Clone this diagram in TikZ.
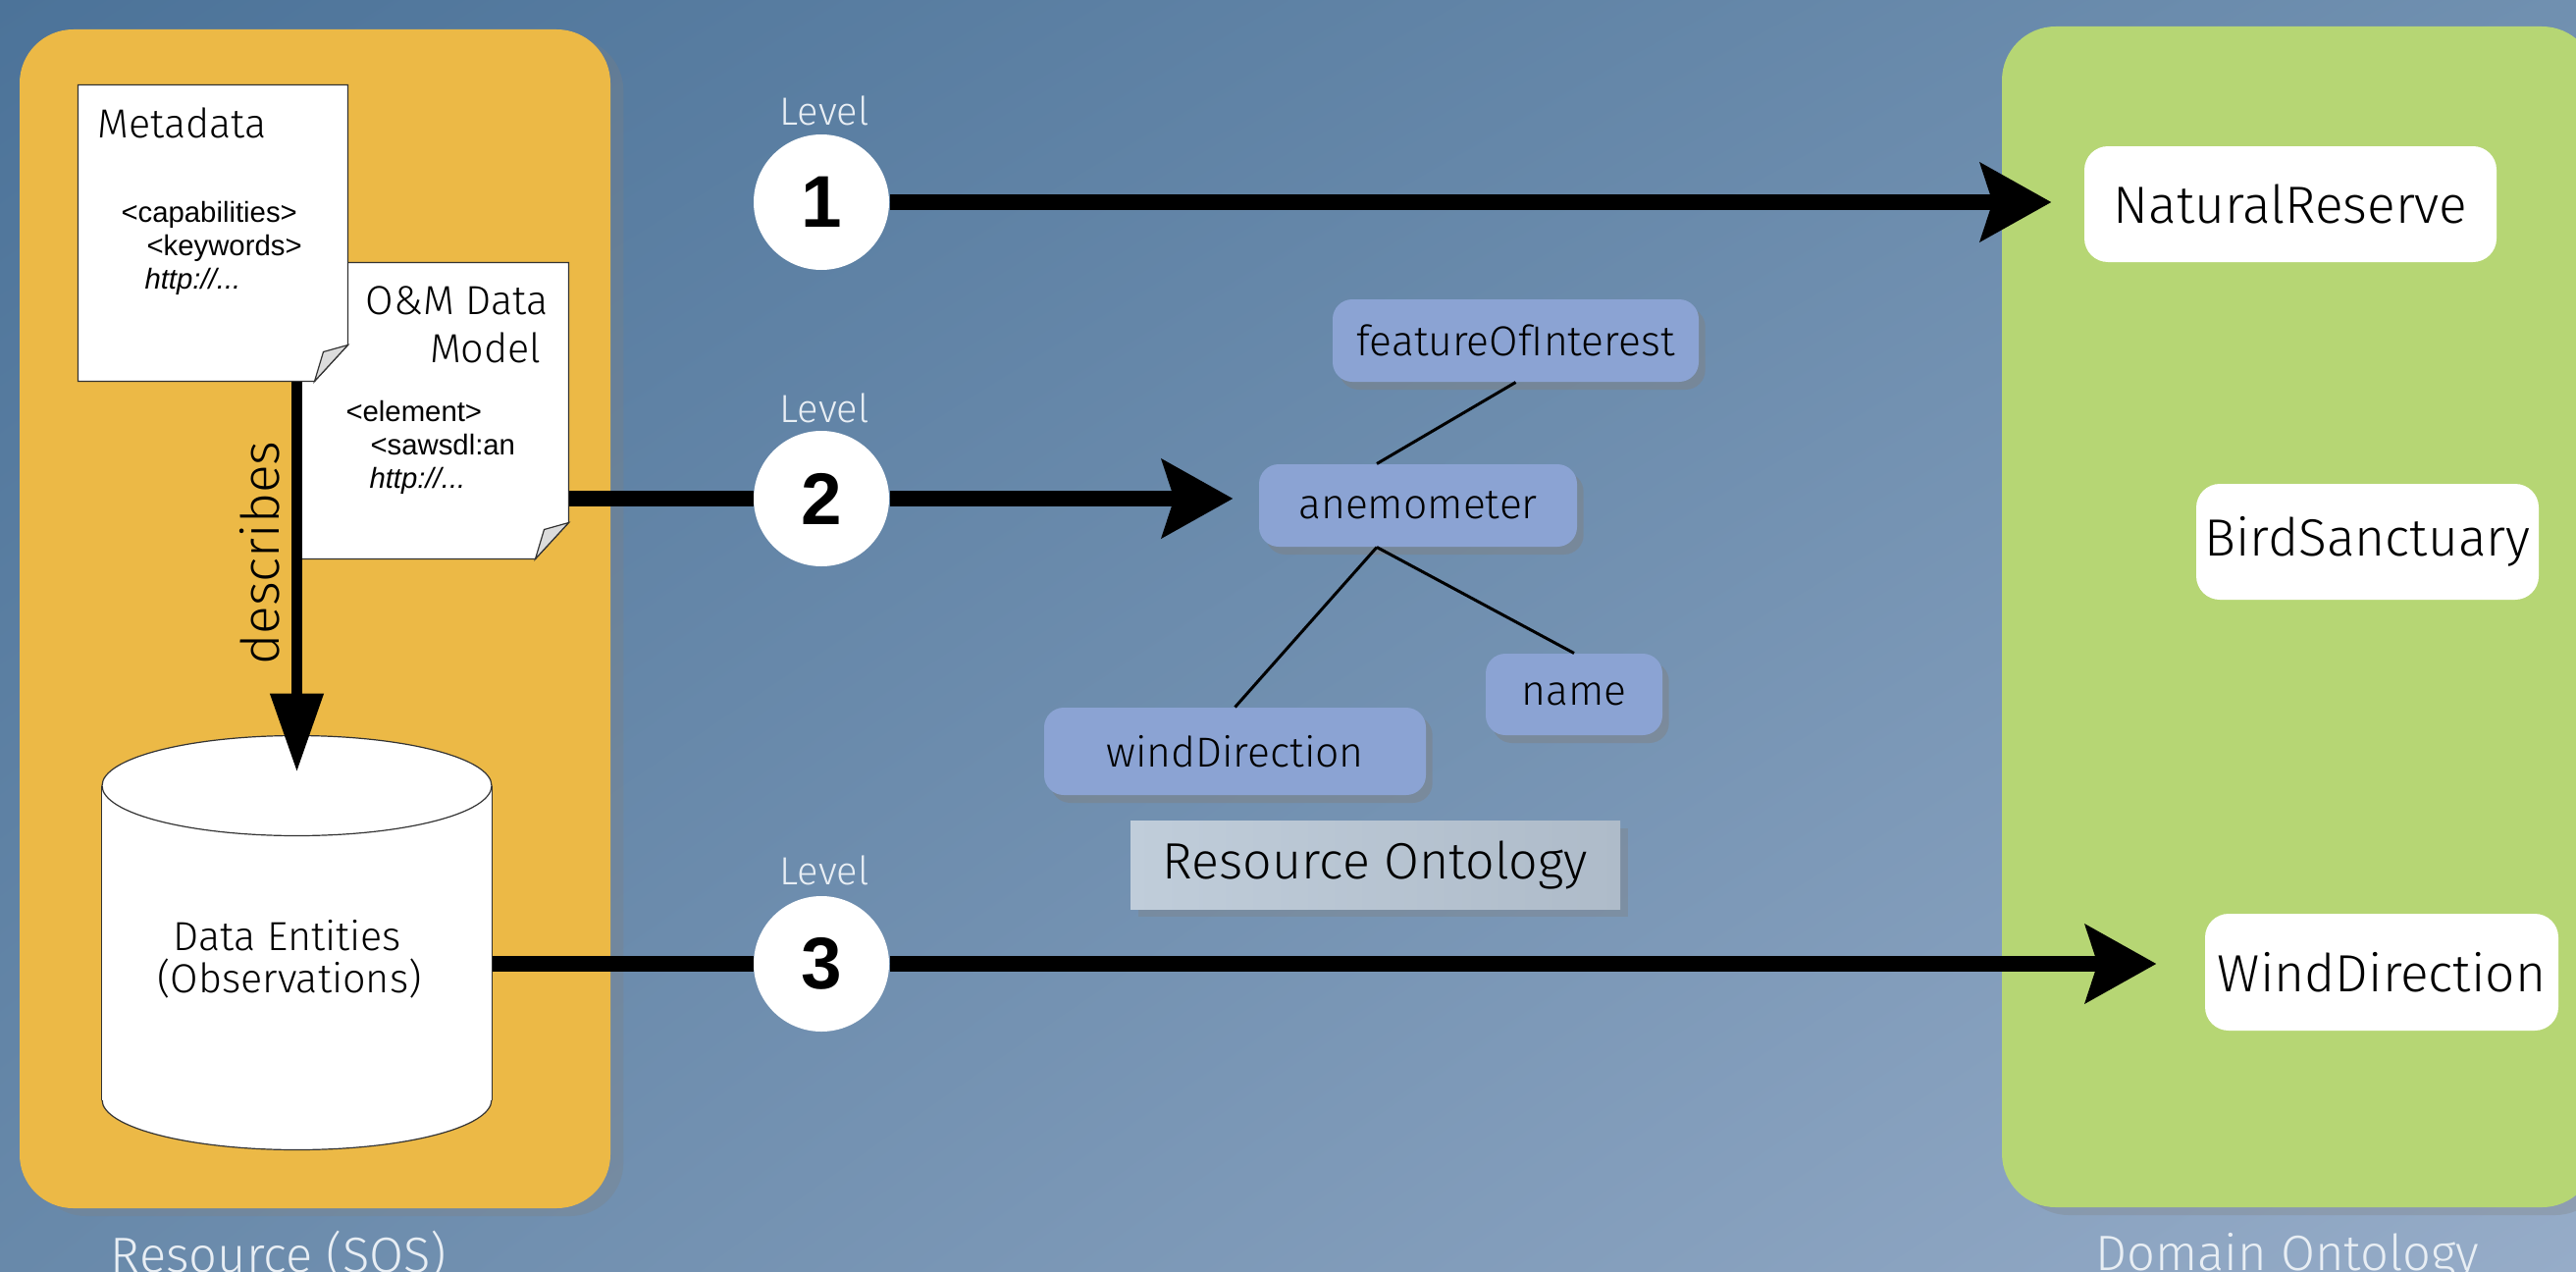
\documentclass[tikz,border=0pt]{standalone}
\usepackage{fontspec}
\setmainfont{Fira Sans Light}
\newfontfamily\codefont{Liberation Sans}
\usetikzlibrary{arrows.meta,shadows,shadings}

\definecolor{sosorange}{RGB}{236,185,70}
\definecolor{domgreen}{RGB}{182,214,116}
\definecolor{ontoblue}{RGB}{139,163,211}
\definecolor{captiongray}{RGB}{232,238,244}
\definecolor{foldgray}{RGB}{220,220,220}
\definecolor{bgUL}{RGB}{76,115,153}
\definecolor{bgUR}{RGB}{112,144,176}
\definecolor{bgLL}{RGB}{104,137,170}
\definecolor{bgLR}{RGB}{150,172,200}
\definecolor{labelL}{RGB}{192,205,218}
\definecolor{labelR}{RGB}{174,187,201}

\tikzset{every picture/.style={line width=0.75pt}}
\tikzset{
  sosbox/.style={fill=sosorange, rounded corners=41pt, minimum width=451.5pt, minimum height=900.75pt, inner sep=0pt,
    drop shadow={opacity=0.3, shadow xshift=10pt, shadow yshift=-6pt}},
  domainbox/.style={fill=domgreen, rounded corners=41pt, minimum width=453.75pt, minimum height=902.25pt, inner sep=0pt,
    drop shadow={opacity=0.3, shadow xshift=10pt, shadow yshift=-6pt}},
  caption/.style={text=captiongray, font=\fontsize{38}{46}\selectfont, inner sep=0pt},
  docnode/.style={minimum width=205.5pt, minimum height=225.75pt, inner sep=0pt},
  paper/.style={draw=black!80, fill=white, line width=0.9pt},
  flap/.style={draw=black!80, fill=foldgray, line width=0.9pt},
  doctitle/.style={font=\fontsize{31}{37}\selectfont, inner sep=0pt},
  codeline/.style={font=\codefont\fontsize{22}{26}\selectfont, inner sep=0pt},
  storenode/.style={minimum width=297.75pt, minimum height=239.25pt, inner sep=0pt},
  levelcircle/.style={circle, fill=white, minimum size=103.5pt, inner sep=0pt, font=\codefont\bfseries\fontsize{56}{60}\selectfont},
  leveltext/.style={text=captiongray, font=\fontsize{30}{36}\selectfont, inner sep=0pt},
  levelline/.style={line width=12pt},
  levelarrow/.style={line width=12pt, -{Stealth[length=54pt, width=59pt, inset=9pt]}},
  descarrow/.style={line width=8.25pt, -{Triangle[length=60pt, width=39pt]}},
  desclabel/.style={rotate=90, anchor=south, font=\fontsize{40}{48}\selectfont, inner sep=9pt},
  ontonode/.style={fill=ontoblue, rounded corners=15pt, inner sep=0pt, minimum height=63pt, font=\fontsize{32}{38}\selectfont,
    drop shadow={opacity=0.45, shadow xshift=5pt, shadow yshift=-6pt}},
  ontolink/.style={line width=2.25pt},
  ontolabel/.style={left color=labelL, right color=labelR, minimum width=374.25pt, minimum height=67.5pt, inner sep=0pt,
    font=\fontsize{39}{46}\selectfont, drop shadow={opacity=0.35, shadow xshift=6pt, shadow yshift=-6pt}},
  domnode/.style={fill=white, rounded corners=18pt, inner sep=0pt, minimum height=88.5pt, font=\fontsize{40}{48}\selectfont}
}

\begin{document}
\begin{tikzpicture}[x=0.75pt,y=0.75pt,yscale=-1,xscale=1]
	\useasboundingbox (0,0) rectangle (2625,1295);
	\clip (0,0) rectangle (2625,1295);

	%Shape: Background
	\shade[upper left=bgUL, upper right=bgUR, lower left=bgLL, lower right=bgLR] (0,0) rectangle (2625,1295);

	%Shape: Rounded Rect [resource]
	\node[sosbox] (res) at (321,630.5) {};
	%Shape: Rounded Rect [domain]
	\node[domainbox] (dom) at (2342.5,628.5) {};

	% Text Node
	\node[caption, anchor=base] (rescap) at (284,1296) {Resource (SOS)};
	% Text Node
	\node[caption, anchor=base] (domcap) at (2331,1294) {Domain Ontology};

	%Shape: Document [O&M]
	\node[docnode] (om) at (442,418.5) {};
	\draw[paper] (om.north west) -- (om.north east) -- ([yshift=-27.75pt]om.south east) -- ([xshift=-25.5pt]om.south east) -- (om.south west) -- cycle;
	\draw[flap] ([yshift=-27.75pt]om.south east) -- ([xshift=-18.75pt,yshift=-22.5pt]om.south east) -- ([xshift=-25.5pt]om.south east) -- cycle;
	% Text Node
	\node[doctitle, anchor=base east] (omtitle) at (559,320) {O\&M Data};
	\node[doctitle, anchor=base east] (omtitleb) at (552,369) {Model};
	\node[codeline, anchor=base west] (omel) at (352,429) {<element>};
	\node[codeline, anchor=base west] (omsaw) at (377,463) {<sawsdl:an};
	\node[codeline, anchor=base west] (omurl) at (376,497) {\itshape http://...};

	%Shape: Document [Metadata]
	\node[docnode] (meta) at (217,237.5) {};
	\draw[paper] (meta.north west) -- (meta.north east) -- ([yshift=-27.75pt]meta.south east) -- ([xshift=-25.5pt]meta.south east) -- (meta.south west) -- cycle;
	\draw[flap] ([yshift=-27.75pt]meta.south east) -- ([xshift=-18.75pt,yshift=-22.5pt]meta.south east) -- ([xshift=-25.5pt]meta.south east) -- cycle;
	% Text Node
	\node[doctitle, anchor=base west] (metatitle) at (99,140) {Metadata};
	\node[codeline, anchor=base west] (metacap) at (123,226) {<capabilities>};
	\node[codeline, anchor=base west] (metakey) at (149,260) {<keywords>};
	\node[codeline, anchor=base west] (metaurl) at (147,294) {\itshape http://...};

	%Shape: Can [data entities]
	\node[storenode] (store) at (302.5,960.5) {};
	\draw[paper] (store.south) ellipse [x radius=148.875pt, y radius=38.25pt];
	\fill[white] (store.north west) rectangle (store.south east);
	\draw[draw=black!80, line width=0.9pt] (store.north west) -- (store.south west) (store.north east) -- (store.south east);
	\draw[paper] (store.north) ellipse [x radius=148.875pt, y radius=38.25pt];
	% Text Node
	\node[doctitle, anchor=base] (storetitle) at (293,968) {Data Entities};
	\node[doctitle, anchor=base] (storesub) at (295,1011) {(Observations)};

	%Straight Lines [describes]
	\draw[descarrow] (meta.south -| store.north) -- ([yshift=-10.5pt]store.north) node[desclabel, pos=0.44] (desc) {describes};

	%Shape: Circle [levels]
	\node[levelcircle] (c1) at (837,206) {1};
	\node[levelcircle] (c2) at (837,508) {2};
	\node[levelcircle] (c3) at (837,982) {3};
	% Text Node
	\node[leveltext, anchor=base] (lv1) at (840,127) {Level};
	\node[leveltext, anchor=base] (lv2) at (840,430) {Level};
	\node[leveltext, anchor=base] (lv3) at (840,901) {Level};

	%Shape: Rounded Rect [resource ontology]
	\node[ontonode, minimum width=279.75pt] (foi) at (1544.5,347) {featureOfInterest};
	\node[ontonode, minimum width=243pt] (anem) at (1445,515) {anemometer};
	\node[ontonode, minimum width=135pt, minimum height=62.25pt] (name) at (1604,707.5) {name};
	\node[ontonode, minimum width=291.75pt, minimum height=66.75pt] (wdir) at (1258.5,765.5) {windDirection};
	\coordinate (anemtop) at ([xshift=-31.5pt]anem.north);
	\coordinate (anembot) at ([xshift=-31.5pt]anem.south);
	% Text Node
	\node[ontolabel] (ontocap) at (1401.5,881) {Resource Ontology};

	%Shape: Rounded Rect [domain ontology]
	\node[domnode, minimum width=315pt] (nat) at (2334,208) {NaturalReserve};
	\node[domnode, minimum width=261.75pt] (bird) at (2412.5,552) {BirdSanctuary};
	\node[domnode, minimum width=270pt, minimum height=89.25pt] (wdirD) at (2427,990.5) {WindDirection};

	%Straight Lines [ontology links]
	\draw[ontolink] (foi.south) -- (anemtop);
	\draw[ontolink] (anembot) -- (wdir.north);
	\draw[ontolink] (anembot) -- (name.north);

	%Straight Lines [level 1]
	\draw[levelarrow, shorten >=24.75pt] (c1) -- (c1 -| nat.west);
	%Straight Lines [level 2]
	\draw[levelline] (om.east |- c2) -- (c2);
	\draw[levelarrow, shorten >=19.5pt] (c2) -- (c2 -| anem.west);
	%Straight Lines [level 3]
	\draw[levelline] (store.east |- c3) -- (c3);
	\draw[levelarrow, shorten >=36.75pt] (c3) -- (c3 -| wdirD.west);

\end{tikzpicture}
\end{document}
